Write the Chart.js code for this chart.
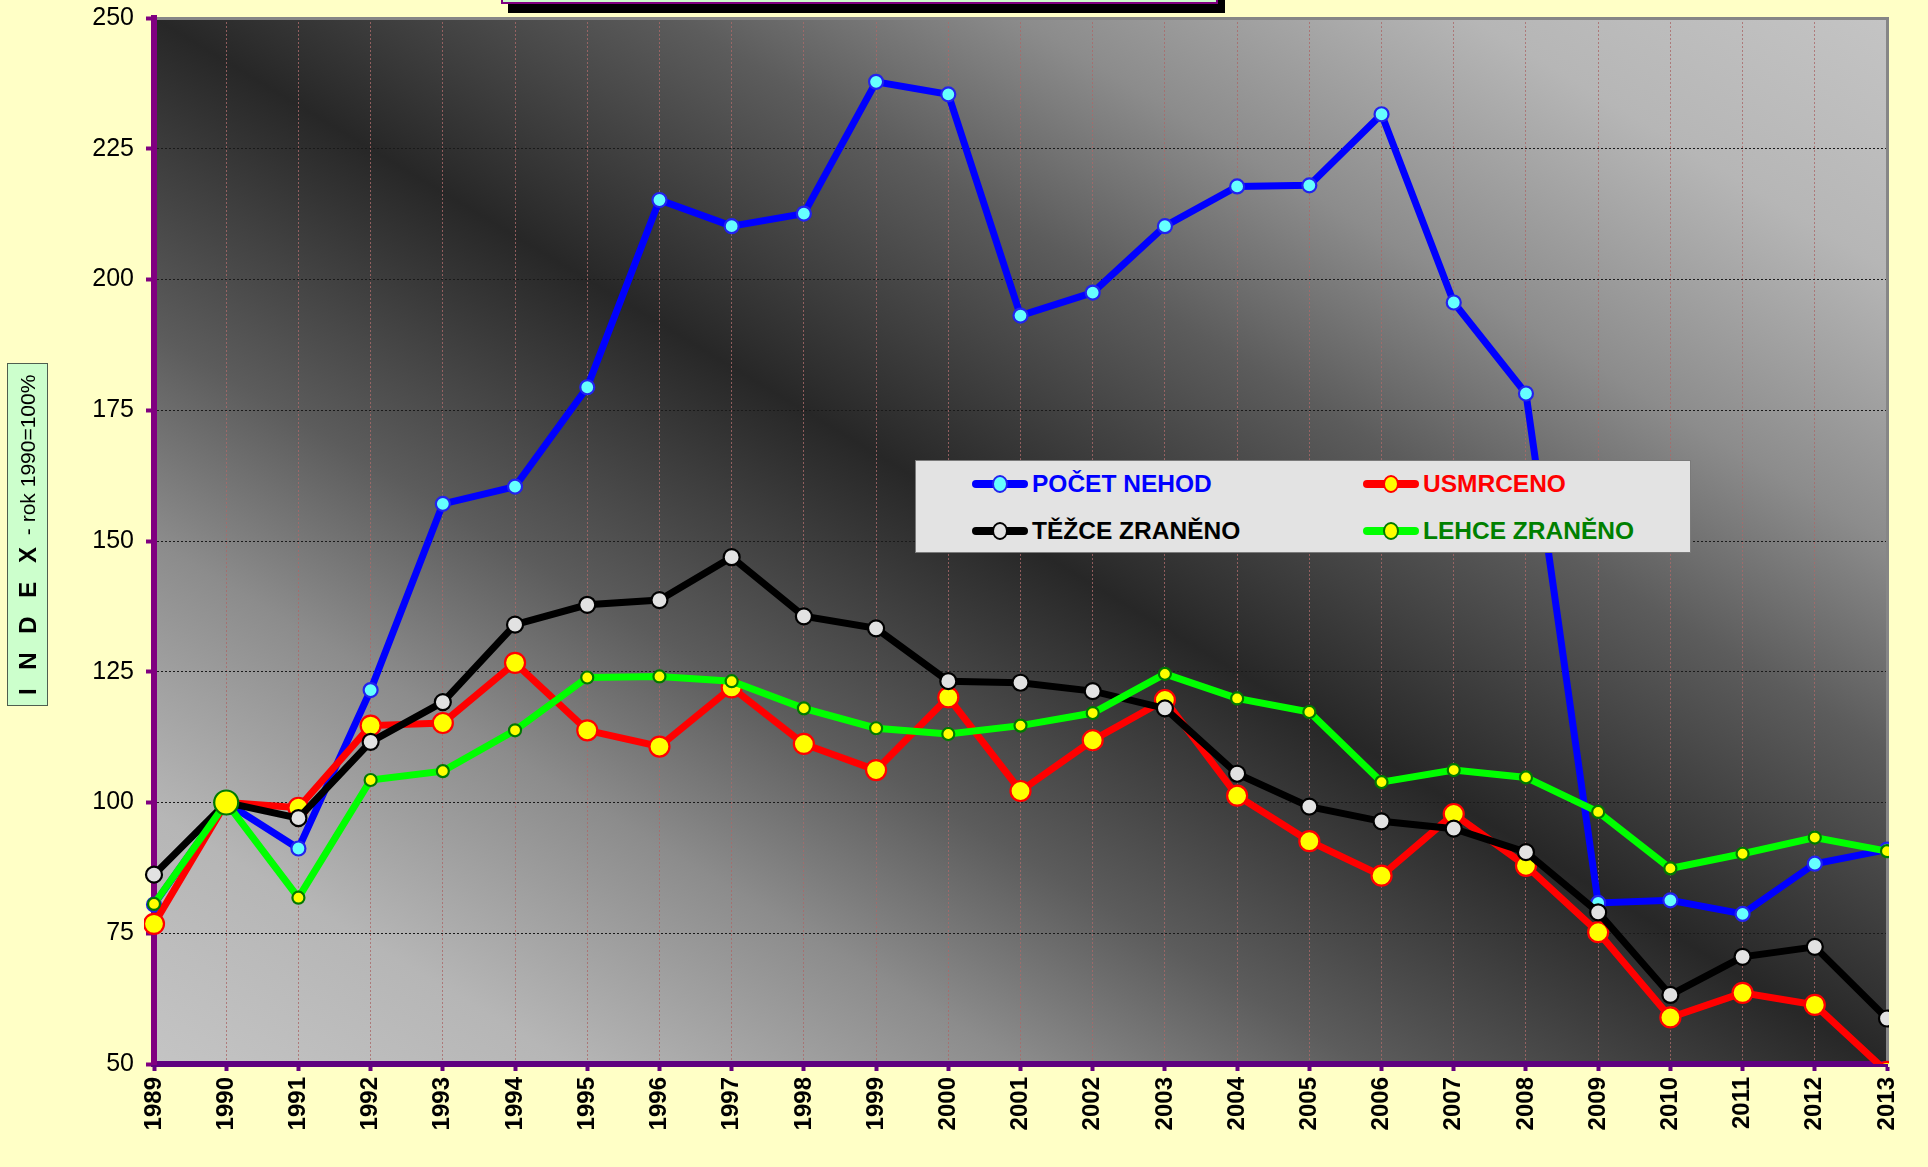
<!DOCTYPE html>
<html lang="cs">

<head>
    <meta charset="UTF-8">
    <title>Index nehodovosti 1989 - 2013</title>
    <script src="https://cdn.jsdelivr.net/npm/chart.js"></script>
    <style>
        body {
            margin: 0;
            background: #ffffc6;
            overflow: hidden;
            font-family: "Liberation Sans", Arial, sans-serif;
        }

        #wrap {
            position: relative;
            width: 1928px;
            height: 1167px;
        }

        .title-box {
            position: absolute;
            left: 501px;
            top: -56px;
            width: 713px;
            height: 56px;
            background: #ccffcc;
            border: 2px solid #800080;
            box-shadow: 7px 9px 0 #000;
        }

        .axis-title {
            position: absolute;
            left: 7px;
            top: 363px;
            width: 41px;
            height: 343px;
            box-sizing: border-box;
            background: #ccffcc;
            border: 1px solid #4f5f4f;
            writing-mode: vertical-rl;
            transform: rotate(180deg);
            text-align: center;
            line-height: 39px;
            font-size: 21px;
            color: #000;
            white-space: nowrap;
        }

        .axis-title b {
            font-size: 24px;
            letter-spacing: 6px;
        }

        #legend {
            position: absolute;
            left: 915px;
            top: 460px;
            width: 776px;
            height: 93px;
            box-sizing: border-box;
            background: #e3e3e3;
            border: 1px solid #7a7a7a;
        }

        .lg-item {
            position: absolute;
            display: flex;
            align-items: center;
            height: 30px;
            font-weight: bold;
            font-size: 24.5px;
        }

        .lg-swatch {
            position: relative;
            width: 56px;
            height: 24px;
            margin-right: 4px;
        }

        .lg-line {
            position: absolute;
            left: 0;
            right: 0;
            top: 8px;
            height: 8px;
            border-radius: 4px;
        }

        .lg-dot {
            position: absolute;
            left: 50%;
            top: 50%;
            width: 12px;
            height: 14px;
            border-radius: 50%;
            transform: translate(-50%, -50%);
            border: 2px solid;
        }
    </style>
</head>

<body>
    <div id="wrap">
        <canvas id="indexChart"></canvas>
        <div class="title-box"></div>
        <div class="axis-title"><b>I N D E X</b> - rok 1990=100%</div>
        <div id="legend"></div>
    </div>

    <script>
        // data - index, rok 1990 = 100
        var years = ['1989', '1990', '1991', '1992', '1993', '1994', '1995', '1996', '1997', '1998', '1999', '2000',
            '2001', '2002', '2003', '2004', '2005', '2006', '2007', '2008', '2009', '2010', '2011', '2012', '2013'];
        var pocetNehod = [80.5, 100, 91.2, 121.5, 157.1, 160.4, 179.4, 215.2, 210.2, 212.6, 237.8, 235.4,
            193.1, 197.5, 210.2, 217.8, 218.0, 231.6, 195.6, 178.2, 80.8, 81.3, 78.7, 88.3, 91.0];
        var usmrceno = [76.8, 100, 99.0, 114.7, 115.2, 126.7, 113.8, 110.7, 122.0, 111.2, 106.2, 120.1,
            102.2, 111.9, 119.6, 101.3, 92.6, 86.0, 97.8, 87.9, 75.2, 58.9, 63.6, 61.3, 48.5];
        var tezceZraneno = [86.2, 100, 97.0, 111.6, 119.2, 134.0, 137.8, 138.7, 146.9, 135.6, 133.3, 123.2,
            122.9, 121.3, 118.0, 105.5, 99.2, 96.4, 95.0, 90.5, 79.0, 63.2, 70.5, 72.4, 58.7];
        var lehceZraneno = [80.6, 100, 81.8, 104.3, 106.0, 113.8, 123.9, 124.1, 123.2, 118.0, 114.2, 113.1,
            114.7, 117.1, 124.6, 119.9, 117.3, 103.9, 106.2, 104.8, 98.2, 87.4, 90.2, 93.3, 90.7];
        var seriesNames = ['POČET NEHOD', 'USMRCENO', 'TĚŽCE ZRANĚNO', 'LEHCE ZRANĚNO'];
        var yMin = 50, yMax = 250, yStep = 25;

        // vzhled rad
        var looks = [
            { line: '#0000ff', fill: '#66ffff', edge: '#2222ee', r: 7, text: '#0000ff' },
            { line: '#ff0000', fill: '#ffff00', edge: '#ff0000', r: 10, text: '#ff0000' },
            { line: '#000000', fill: '#e2e2e2', edge: '#000000', r: 8, text: '#000000' },
            { line: '#00ff00', fill: '#ffff00', edge: '#007a00', r: 6, text: '#008000' }
        ];
        var allData = [pocetNehod, usmrceno, tezceZraneno, lehceZraneno];

        Chart.defaults.font.family = '"Liberation Sans", Arial, sans-serif';

        // pozadi grafu - diagonalni prechod
        var plotBg = {
            id: 'plotBg',
            beforeDraw: function (chart) {
                var ctx = chart.ctx, a = chart.chartArea;
                ctx.save();
                ctx.fillStyle = '#ffffc6';
                ctx.fillRect(0, 0, chart.width, chart.height);
                ctx.translate(a.left, a.top);
                ctx.scale(a.right - a.left, a.bottom - a.top);
                var g = ctx.createLinearGradient(0, 1, 1, 0);
                g.addColorStop(0, '#c4c4c4');
                g.addColorStop(0.12, '#b6b6b6');
                g.addColorStop(0.25, '#8c8c8c');
                g.addColorStop(0.35, '#5c5c5c');
                g.addColorStop(0.5, '#272727');
                g.addColorStop(0.65, '#5c5c5c');
                g.addColorStop(0.75, '#8c8c8c');
                g.addColorStop(0.88, '#b6b6b6');
                g.addColorStop(1, '#c4c4c4');
                ctx.fillStyle = g;
                ctx.fillRect(0, 0, 1, 1);
                ctx.restore();
            },
            beforeDatasetsDraw: function (chart) {
                var ctx = chart.ctx, a = chart.chartArea;
                ctx.save();
                ctx.strokeStyle = '#868686';
                ctx.lineWidth = 3;
                ctx.beginPath();
                ctx.moveTo(a.left + 3, a.top + 0.5);
                ctx.lineTo(a.right + 0.5, a.top + 0.5);
                ctx.lineTo(a.right + 0.5, a.bottom);
                ctx.stroke();
                ctx.restore();
            }
        };

        var datasets = allData.map(function (vals, i) {
            var lk = looks[i];
            return {
                label: seriesNames[i],
                data: vals,
                borderColor: lk.line,
                borderWidth: 7,
                tension: 0,
                pointBackgroundColor: lk.fill,
                pointBorderColor: lk.edge,
                pointBorderWidth: 2.2,
                pointRadius: (i === 3) ? function (c) { return c.dataIndex === 1 ? 12 : lk.r; } : lk.r,
                order: 4 - i,
                clip: { left: 10, top: 10, right: 2, bottom: 0 }
            };
        });

        var ctx = document.getElementById('indexChart').getContext('2d');
        var indexChart = new Chart(ctx, {
            type: 'line',
            data: { labels: years, datasets: datasets },
            plugins: [plotBg],
            options: {
                responsive: true,
                maintainAspectRatio: false,
                animation: false,
                layout: { padding: { top: 18, right: 41, bottom: 0, left: 0 } },
                plugins: {
                    legend: { display: false },
                    tooltip: { enabled: false }
                },
                scales: {
                    x: {
                        offset: false,
                        grid: {
                            color: 'rgba(170,105,105,0.8)',
                            lineWidth: 1,
                            tickColor: '#660080',
                            tickWidth: 4,
                            tickLength: 7
                        },
                        border: { color: '#5f007f', width: 6, dash: [2, 2] },
                        ticks: {
                            minRotation: 90,
                            maxRotation: 90,
                            autoSkip: false,
                            padding: 6,
                            color: '#000',
                            font: { size: 24, weight: 'bold' }
                        },
                        afterFit: function (s) {
                            s.height = 103;
                            s.paddingLeft = 0;
                            s.paddingRight = 0;
                        }
                    },
                    y: {
                        min: yMin,
                        max: yMax,
                        grid: {
                            color: '#1a1a1a',
                            lineWidth: 1,
                            tickColor: '#800080',
                            tickWidth: 4,
                            tickLength: 8
                        },
                        border: { color: '#800080', width: 6, dash: [2, 2] },
                        ticks: {
                            stepSize: yStep,
                            padding: 12,
                            color: '#000',
                            font: { size: 25 }
                        },
                        afterFit: function (s) {
                            s.width = 154;
                            s.paddingTop = 0;
                            s.paddingBottom = 0;
                        }
                    }
                }
            }
        });

        // legenda
        var legendPos = [[56, 8], [447, 8], [56, 55], [447, 55]];
        var legend = document.getElementById('legend');
        seriesNames.forEach(function (name, i) {
            var lk = looks[i];
            var item = document.createElement('div');
            item.className = 'lg-item';
            item.style.left = legendPos[i][0] + 'px';
            item.style.top = legendPos[i][1] + 'px';
            item.style.color = lk.text;
            item.innerHTML = '<div class="lg-swatch"><div class="lg-line" style="background:' + lk.line + '"></div>' +
                '<div class="lg-dot" style="background:' + lk.fill + ';border-color:' + lk.edge + '"></div></div>' +
                '<span>' + name + '</span>';
            legend.appendChild(item);
        });
    </script>
</body>

</html>
